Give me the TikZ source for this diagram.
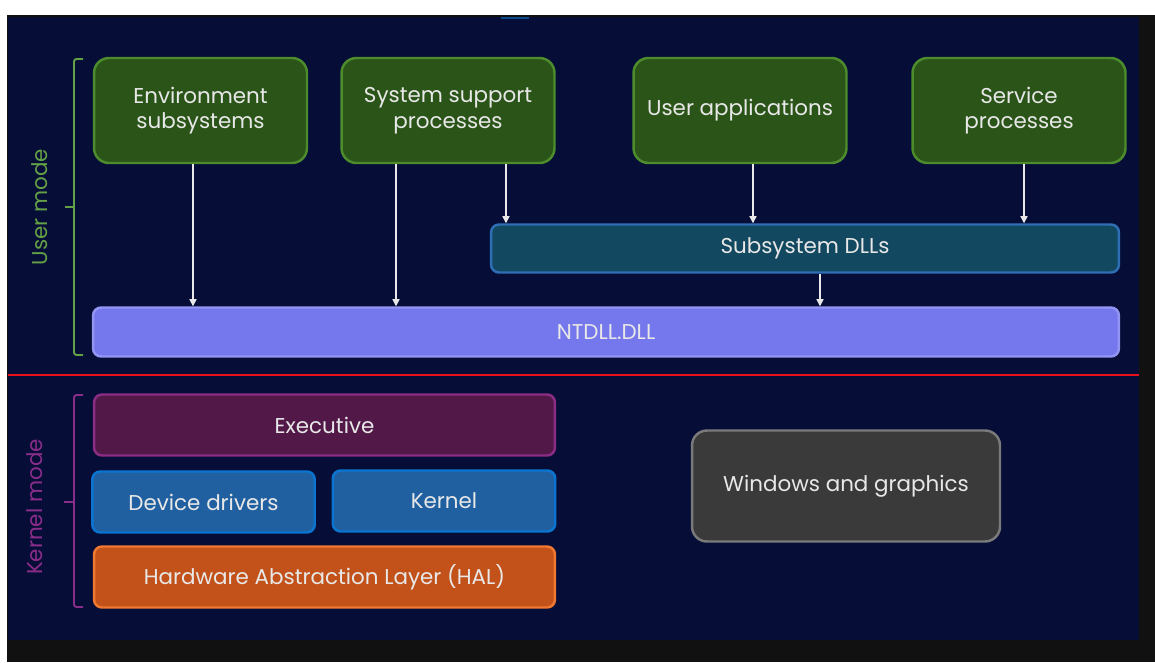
\documentclass[tikz,border=0pt]{standalone}
\usepackage{fontspec}
\setmainfont{Poppins}
\usetikzlibrary{
  arrows.meta,
  positioning
}
\definecolor{pagebg}{RGB}{6,14,55}
\definecolor{framedark}{RGB}{17,17,17}
\definecolor{textwhite}{RGB}{232,232,232}
\definecolor{procfill}{RGB}{43,85,24}
\definecolor{procborder}{RGB}{76,140,44}
\definecolor{dllfill}{RGB}{18,72,96}
\definecolor{dllborder}{RGB}{46,110,180}
\definecolor{ntfill}{RGB}{117,119,236}
\definecolor{ntborder}{RGB}{147,149,242}
\definecolor{execfill}{RGB}{82,24,72}
\definecolor{execborder}{RGB}{140,44,132}
\definecolor{drvfill}{RGB}{33,96,160}
\definecolor{drvborder}{RGB}{10,116,208}
\definecolor{halfill}{RGB}{194,82,26}
\definecolor{halborder}{RGB}{240,120,48}
\definecolor{gfxfill}{RGB}{58,58,58}
\definecolor{gfxborder}{RGB}{122,122,122}
\definecolor{usergreen}{RGB}{100,160,70}
\definecolor{kernelpurple}{RGB}{138,44,138}
\definecolor{splitred}{RGB}{232,16,28}
\definecolor{edgeblue}{RGB}{10,74,138}
\tikzset{
  layerbox/.style={
    draw, line width=1.4pt, rounded corners=4.5pt,
    align=center, inner sep=2pt,
    font=\fontsize{12.2}{14.6}\selectfont\color{textwhite}
  },
  procbox/.style={
    layerbox, draw=procborder, fill=procfill,
    rounded corners=8.5pt,
    minimum width=4.26cm, minimum height=2.1cm
  },
  dllbox/.style={
    layerbox, draw=dllborder, fill=dllfill,
    minimum width=12.56cm, minimum height=0.96cm
  },
  ntbox/.style={
    layerbox, draw=ntborder, fill=ntfill,
    minimum width=20.52cm, minimum height=0.98cm
  },
  execbox/.style={
    layerbox, draw=execborder, fill=execfill,
    minimum width=9.22cm, minimum height=1.22cm
  },
  drvbox/.style={
    layerbox, draw=drvborder, fill=drvfill,
    minimum width=4.45cm, minimum height=1.22cm
  },
  halbox/.style={
    layerbox, draw=halborder, fill=halfill,
    minimum width=9.22cm, minimum height=1.22cm
  },
  gfxbox/.style={
    layerbox, draw=gfxborder, fill=gfxfill,
    rounded corners=8.5pt,
    minimum width=6.16cm, minimum height=2.22cm
  },
  flowarrow/.style={
    -{Triangle[length=4pt,width=4pt]},
    draw=textwhite, line width=0.75pt
  },
  modebracket/.style={
    line width=1.1pt, rounded corners=1.5pt
  },
  modelabel/.style={
    rotate=90, font=\fontsize{12.2}{14.6}\selectfont
  },
}

\begin{document}
\begin{tikzpicture}[x=0.02cm, y=-0.02cm]

  \useasboundingbox (0,0) rectangle (1155,662);

  %% Frame and background
  \fill[framedark] (7,15) rectangle (1155,662);
  \fill[pagebg] (8,17) rectangle (1139,640);
  \draw[edgeblue, line width=1pt] (501,18) -- (529,18);

  %% User mode processes
  \node[procbox] (env) at (200.5,110.5) {Environment\\subsystems};
  \node[procbox] (sys) at (448,110.5) {System support\\processes};
  \node[procbox] (apps) at (740,110.5) {User applications};
  \node[procbox] (svc) at (1019,110.5) {Service\\processes};

  %% DLL layers
  \node[dllbox] (subdll) at (805,248.5) {Subsystem DLLs};
  \node[ntbox] (ntdll) at (606,332) {NTDLL.DLL};

  \draw[flowarrow] ([xshift=-0.15cm]env.south)
    -- ([xshift=-0.15cm]env.south |- ntdll.north);
  \draw[flowarrow] ([xshift=-1.04cm]sys.south)
    -- ([xshift=-1.04cm]sys.south |- ntdll.north);
  \draw[flowarrow] ([xshift=1.16cm]sys.south)
    -- ([xshift=1.16cm]sys.south |- subdll.north);
  \draw[flowarrow] ([xshift=0.26cm]apps.south)
    -- ([xshift=0.26cm]apps.south |- subdll.north);
  \draw[flowarrow] ([xshift=0.1cm]svc.south)
    -- ([xshift=0.1cm]svc.south |- subdll.north);
  \draw[flowarrow] ([xshift=0.3cm]subdll.south)
    -- ([xshift=0.3cm]subdll.south |- ntdll.north);

  %% Mode split
  \draw[splitred, line width=1.2pt] (8,375) -- (1139,375);

  %% Kernel mode
  \node[execbox] (exec) at (324.5,425) {Executive};
  \node[drvbox] (drv) at (203.5,502) {Device drivers};
  \node[drvbox] (kern) at (444,501) {Kernel};
  \node[halbox] (hal) at (324.5,577) {Hardware Abstraction Layer (HAL)};
  \node[gfxbox] (gfx) at (846,486) {Windows and graphics};

  %% Brackets
  \draw[modebracket, usergreen] (83,59) -- (74,59) -- (74,355) -- (83,355);
  \draw[modebracket, usergreen] (74,207) -- (65,207);
  \node[modelabel, text=usergreen] (userlbl) at (40,207) {User mode};

  \draw[modebracket, kernelpurple] (83,395) -- (74,395) -- (74,607) -- (83,607);
  \draw[modebracket, kernelpurple] (74,502) -- (64,502);
  \node[modelabel, text=kernelpurple] (kernlbl) at (35,507) {Kernel mode};

\end{tikzpicture}
\end{document}
